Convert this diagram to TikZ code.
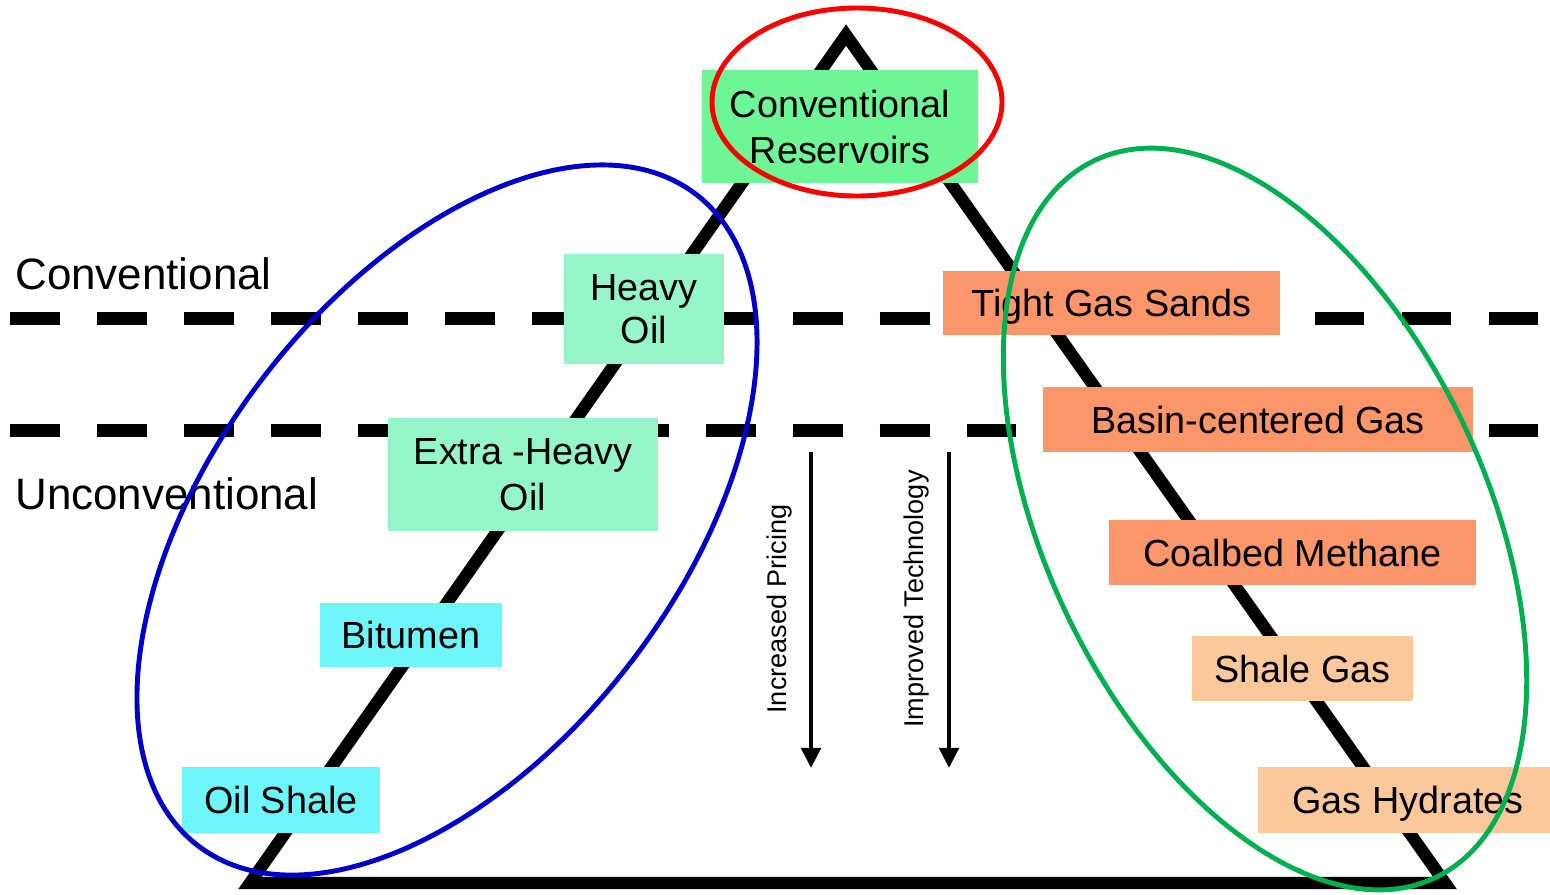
\documentclass[tikz,border=0pt]{standalone}
\usepackage{fontspec}
\setmainfont{Liberation Sans}
\usetikzlibrary{arrows.meta}
\definecolor{convgreen}{RGB}{110,245,150}
\definecolor{mint}{RGB}{150,245,200}
\definecolor{cyanbox}{RGB}{110,245,250}
\definecolor{salmon}{RGB}{250,150,105}
\definecolor{peach}{RGB}{250,200,155}
\definecolor{ellred}{RGB}{250,0,0}
\definecolor{ellblue}{RGB}{0,0,200}
\definecolor{ellgreen}{RGB}{0,176,80}
\def\px{0.02cm}
\tikzset{
  box/.style={inner sep=0pt, align=center, text depth=0pt,
    font=\fontsize{21.5}{26}\selectfont},
  sidelabel/.style={inner sep=0pt, anchor=base west, font=\fontsize{25}{29}\selectfont},
  vlabel/.style={inner sep=0pt, rotate=90, font=\fontsize{15.4}{18}\selectfont},
  frame/.style={line width=7pt, line join=miter},
  divider/.style={line width=7.4pt, dash pattern=on 28.35pt off 21.15pt},
  trend/.style={line width=2.6pt, -{Triangle[length=11.5pt,width=11pt]}},
  ring/.style={line width=2.8pt}
}
\begin{document}
\begin{tikzpicture}[x=0.02cm,y=-0.02cm]
\useasboundingbox (0,0) rectangle (1550,894);
% triangle
\coordinate (apex) at (846,35);
\coordinate (bl) at (250,883);
\coordinate (br) at (1445,883);
\draw[frame] (bl) -- (apex) -- (br) -- cycle;
% dashed dividers
\coordinate (d1a) at (10,318);
\coordinate (d1b) at (1545,318);
\coordinate (d2a) at (10,430);
\coordinate (d2b) at (1545,430);
\draw[divider] (d1a) -- (d1b);
\draw[divider] (d2a) -- (d2b);
% boxes
\node[box, fill=convgreen, minimum width=276*\px, minimum height=113*\px] (conv) at (840,126.5) {Conventional\\Reservoirs};
\node[box, fill=mint, minimum width=160*\px, minimum height=110*\px, font=\fontsize{21.5}{25}\selectfont] (heavy) at (644,309) {Heavy\\Oil};
\node[box, fill=mint, minimum width=270*\px, minimum height=113*\px] (xheavy) at (523,474.5) {Extra -Heavy\\Oil};
\node[box, fill=cyanbox, minimum width=182*\px, minimum height=64*\px] (bitumen) at (411,635) {Bitumen};
\node[box, fill=cyanbox, minimum width=198*\px, minimum height=66*\px] (oilshale) at (281,800) {Oil Shale};
\node[box, fill=salmon, minimum width=337*\px, minimum height=64*\px] (tight) at (1111.5,303) {Tight Gas Sands};
\node[box, fill=salmon, minimum width=430*\px, minimum height=65*\px] (basin) at (1258,419.5) {Basin-centered Gas};
\node[box, fill=salmon, minimum width=367*\px, minimum height=65*\px] (coal) at (1292.5,552.5) {Coalbed Methane};
\node[box, fill=peach, minimum width=221*\px, minimum height=65*\px] (shale) at (1302.5,668.5) {Shale Gas};
\node[box, fill=peach, minimum width=300*\px, minimum height=66*\px] (hydr) at (1408,800) {Gas Hydrates};
% side labels
\node[sidelabel] (lconv) at (15,289) {Conventional};
\node[sidelabel] (lunconv) at (15,509) {Unconventional};
% trend arrows
\coordinate (a1s) at (811,452);
\coordinate (a1e) at (811,768);
\coordinate (a2s) at (949,452);
\coordinate (a2e) at (949,768);
\draw[trend] (a1s) -- (a1e);
\draw[trend] (a2s) -- (a2e);
\node[vlabel] (price) at (779.5,609) {Increased Pricing};
\node[vlabel] (tech) at (916.5,599) {Improved Technology};
% ellipses
\draw[ring, ellred] (857,102) ellipse [x radius=145*\px, y radius=94*\px];
\draw[ring, ellblue, rotate around={52.6:(447,520)}] (447,520) ellipse [x radius=410*\px, y radius=232.5*\px];
\draw[ring, ellgreen, rotate around={-64.6:(1265,519)}] (1265,519) ellipse [x radius=397*\px, y radius=220*\px];
\end{tikzpicture}
\end{document}
